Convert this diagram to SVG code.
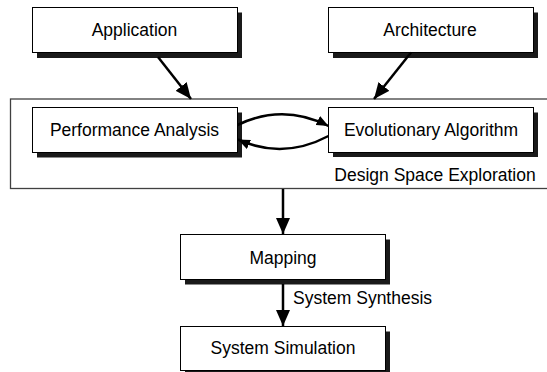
<svg xmlns="http://www.w3.org/2000/svg" width="547" height="372" viewBox="0 0 547 372">
<defs>
<marker id="ah" viewBox="0 0 12 10" refX="12" refY="5" markerWidth="12" markerHeight="10" markerUnits="userSpaceOnUse" orient="auto">
<path d="M0,0 L12,5 L0,10 Z" fill="#000"/>
</marker>
<marker id="ahb" viewBox="0 0 16 14" refX="16" refY="7" markerWidth="16" markerHeight="14" markerUnits="userSpaceOnUse" orient="auto">
<path d="M0,0 L16,7 L0,14 Z" fill="#000"/>
</marker>
</defs>
<style>
.box{fill:#fff;stroke:#000;stroke-width:1}
.sh{fill:#1a1a1a}
.t{font-family:"Liberation Sans",Arial,sans-serif;font-size:17.5px;fill:#000;text-anchor:middle}
.c{fill:none;stroke:#000;stroke-width:2.5}
</style>
<rect x="0" y="0" width="547" height="372" fill="#fff"/>
<g id="dse">
<rect x="10.5" y="99" width="550" height="89.5" fill="#fff" stroke="#404040" stroke-width="1.3"/>
<text class="t" x="435" y="181">Design Space Exploration</text>
</g>
<g id="application">
<rect class="sh" x="37" y="12.5" width="205" height="45.5"/>
<rect class="box" x="32.5" y="7.5" width="205" height="45"/>
<text class="t" x="134.5" y="36">Application</text>
</g>
<g id="architecture">
<rect class="sh" x="333" y="12.5" width="205" height="45.5"/>
<rect class="box" x="328.5" y="7.5" width="205" height="45"/>
<text class="t" x="430" y="36">Architecture</text>
</g>
<g id="performance">
<rect class="sh" x="37" y="112.5" width="205" height="45"/>
<rect class="box" x="32.5" y="107.5" width="205" height="45"/>
<text class="t" x="134.5" y="136">Performance Analysis</text>
</g>
<g id="evolutionary">
<rect class="sh" x="333" y="112.5" width="205" height="44.5"/>
<rect class="box" x="328.5" y="107.5" width="205" height="45"/>
<text class="t" x="431" y="136">Evolutionary Algorithm</text>
</g>
<g id="mapping">
<rect class="sh" x="185" y="239.5" width="205" height="45"/>
<rect class="box" x="180.5" y="234.5" width="205" height="45"/>
<text class="t" x="283" y="264">Mapping</text>
</g>
<g id="simulation">
<rect class="sh" x="185" y="331.5" width="205" height="45"/>
<rect class="box" x="180.5" y="326.5" width="205" height="44"/>
<text class="t" x="283" y="354">System Simulation</text>
</g>
<g id="connectors">
<line class="c" x1="158" y1="57" x2="191" y2="99" marker-end="url(#ahb)"/>
<line class="c" x1="411" y1="52.5" x2="374" y2="99" marker-end="url(#ahb)"/>
<path class="c" d="M237.5,125 Q283,103 328.5,126" marker-end="url(#ah)"/>
<path class="c" d="M328.5,136 Q283,160 238,139.5" marker-end="url(#ah)"/>
<line class="c" x1="283" y1="189" x2="283" y2="234" marker-end="url(#ahb)"/>
<line class="c" x1="283" y1="284" x2="283" y2="326" marker-end="url(#ahb)"/>
<text class="t" x="293" y="304" style="text-anchor:start">System Synthesis</text>
</g>
</svg>
